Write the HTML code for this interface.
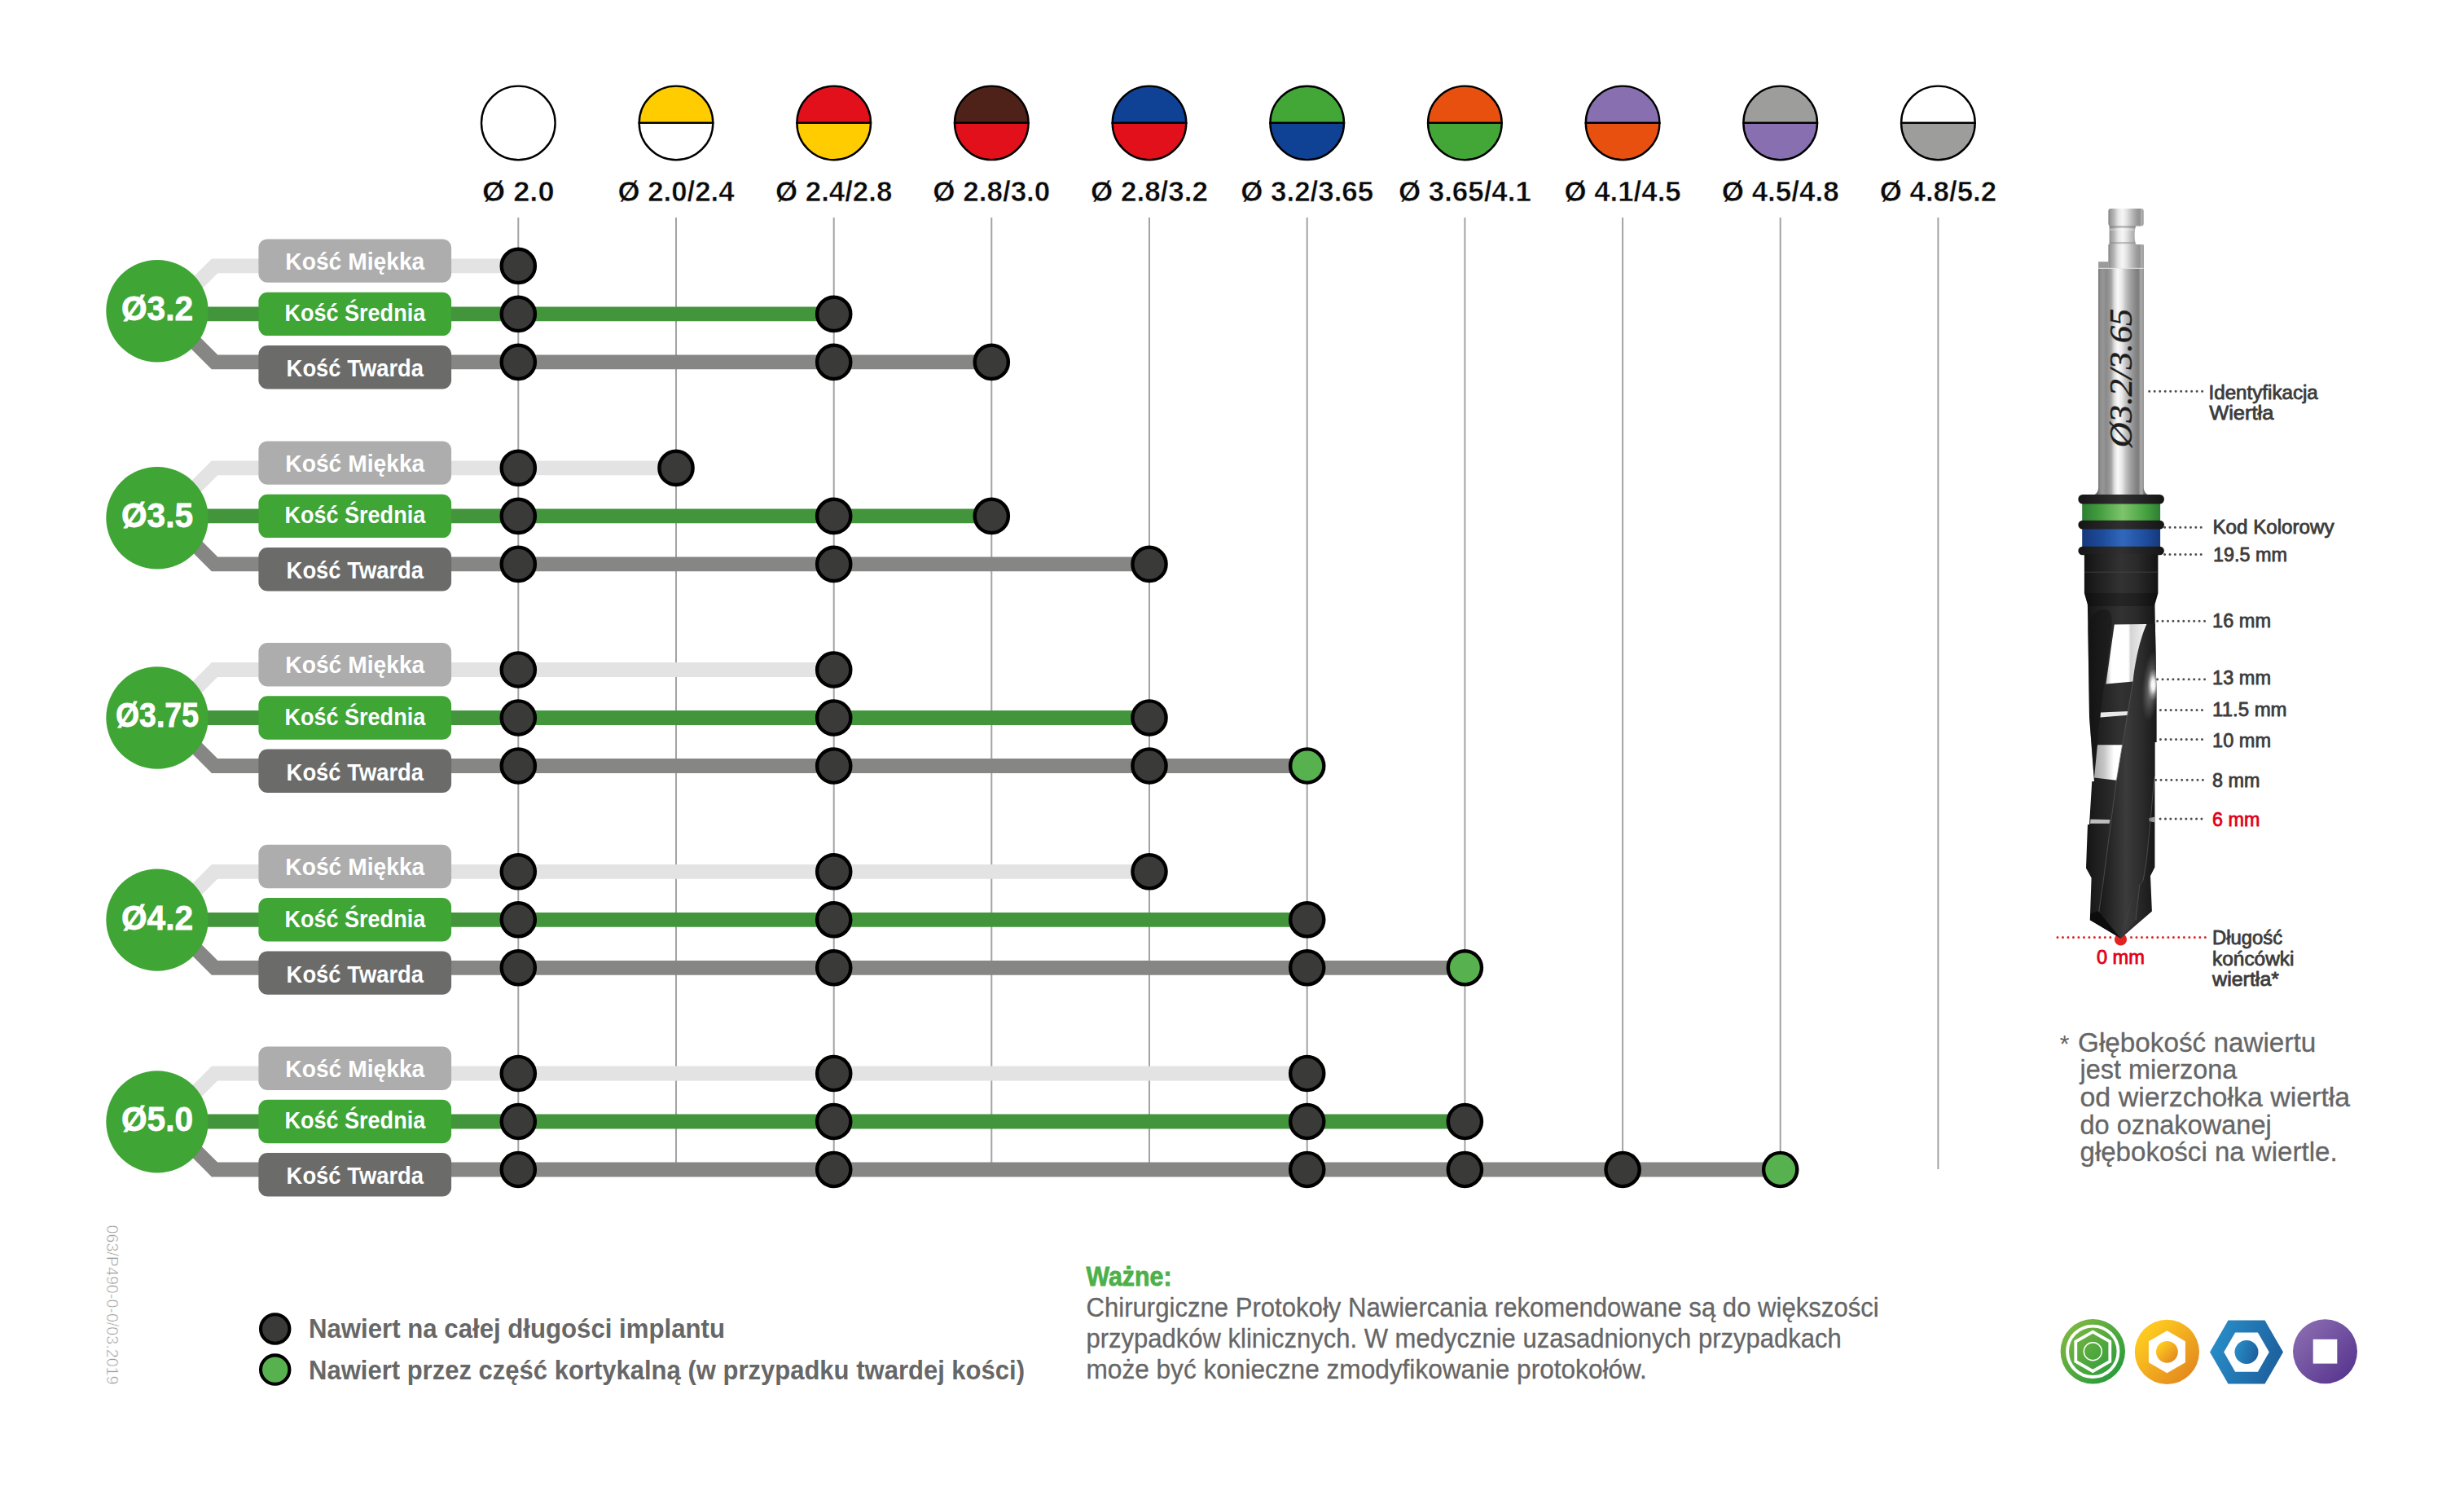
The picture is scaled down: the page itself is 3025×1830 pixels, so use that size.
<!DOCTYPE html>
<html lang="pl"><head><meta charset="utf-8"><title>Protokoły nawiercania</title>
<style>html,body{margin:0;padding:0;background:#fff}svg{display:block}text{white-space:pre}</style></head>
<body>
<svg width="3025" height="1830" viewBox="0 0 3025 1830">
<rect width="3025" height="1830" fill="#fff"/>
<g stroke="#a3a3a3" stroke-width="2">
<line x1="636.3" y1="267" x2="636.3" y2="1435"/>
<line x1="830.0" y1="267" x2="830.0" y2="1435"/>
<line x1="1023.7" y1="267" x2="1023.7" y2="1435"/>
<line x1="1217.3" y1="267" x2="1217.3" y2="1435"/>
<line x1="1411.0" y1="267" x2="1411.0" y2="1435"/>
<line x1="1604.7" y1="267" x2="1604.7" y2="1435"/>
<line x1="1798.4" y1="267" x2="1798.4" y2="1435"/>
<line x1="1992.1" y1="267" x2="1992.1" y2="1435"/>
<line x1="2185.7" y1="267" x2="2185.7" y2="1435"/>
<line x1="2379.4" y1="267" x2="2379.4" y2="1435"/>
</g>
<g stroke="#000" stroke-width="2.4">
<circle cx="636.3" cy="150.9" r="45.3" fill="#fff"/>
<path d="M784.7 150.9A45.3 45.3 0 0 1 875.3 150.9Z" fill="#ffcc00"/>
<path d="M784.7 150.9A45.3 45.3 0 0 0 875.3 150.9Z" fill="#ffffff"/>
<path d="M978.4 150.9A45.3 45.3 0 0 1 1069.0 150.9Z" fill="#e2101b"/>
<path d="M978.4 150.9A45.3 45.3 0 0 0 1069.0 150.9Z" fill="#ffcc00"/>
<path d="M1172.0 150.9A45.3 45.3 0 0 1 1262.6 150.9Z" fill="#4f2219"/>
<path d="M1172.0 150.9A45.3 45.3 0 0 0 1262.6 150.9Z" fill="#e2101b"/>
<path d="M1365.7 150.9A45.3 45.3 0 0 1 1456.3 150.9Z" fill="#0f4194"/>
<path d="M1365.7 150.9A45.3 45.3 0 0 0 1456.3 150.9Z" fill="#e2101b"/>
<path d="M1559.4 150.9A45.3 45.3 0 0 1 1650.0 150.9Z" fill="#43a738"/>
<path d="M1559.4 150.9A45.3 45.3 0 0 0 1650.0 150.9Z" fill="#0f4194"/>
<path d="M1753.1 150.9A45.3 45.3 0 0 1 1843.7 150.9Z" fill="#e8500f"/>
<path d="M1753.1 150.9A45.3 45.3 0 0 0 1843.7 150.9Z" fill="#43a738"/>
<path d="M1946.8 150.9A45.3 45.3 0 0 1 2037.4 150.9Z" fill="#8870b0"/>
<path d="M1946.8 150.9A45.3 45.3 0 0 0 2037.4 150.9Z" fill="#e8500f"/>
<path d="M2140.4 150.9A45.3 45.3 0 0 1 2231.0 150.9Z" fill="#9d9d9c"/>
<path d="M2140.4 150.9A45.3 45.3 0 0 0 2231.0 150.9Z" fill="#8870b0"/>
<path d="M2334.1 150.9A45.3 45.3 0 0 1 2424.7 150.9Z" fill="#ffffff"/>
<path d="M2334.1 150.9A45.3 45.3 0 0 0 2424.7 150.9Z" fill="#9d9d9c"/>
</g>
<g font-family="Liberation Sans, sans-serif">
<text x="592.0" y="246.7" font-size="35.2" font-weight="bold" fill="#0a0a0a" text-anchor="start" textLength="88.5" lengthAdjust="spacingAndGlyphs" stroke="#fff" stroke-width="0.5">Ø 2.0</text>
<text x="758.5" y="246.7" font-size="35.2" font-weight="bold" fill="#0a0a0a" text-anchor="start" textLength="143" lengthAdjust="spacingAndGlyphs" stroke="#fff" stroke-width="0.5">Ø 2.0/2.4</text>
<text x="952.0" y="246.7" font-size="35.2" font-weight="bold" fill="#0a0a0a" text-anchor="start" textLength="143.3" lengthAdjust="spacingAndGlyphs" stroke="#fff" stroke-width="0.5">Ø 2.4/2.8</text>
<text x="1145.3" y="246.7" font-size="35.2" font-weight="bold" fill="#0a0a0a" text-anchor="start" textLength="144" lengthAdjust="spacingAndGlyphs" stroke="#fff" stroke-width="0.5">Ø 2.8/3.0</text>
<text x="1339.0" y="246.7" font-size="35.2" font-weight="bold" fill="#0a0a0a" text-anchor="start" textLength="144" lengthAdjust="spacingAndGlyphs" stroke="#fff" stroke-width="0.5">Ø 2.8/3.2</text>
<text x="1523.2" y="246.7" font-size="35.2" font-weight="bold" fill="#0a0a0a" text-anchor="start" textLength="163" lengthAdjust="spacingAndGlyphs" stroke="#fff" stroke-width="0.5">Ø 3.2/3.65</text>
<text x="1716.9" y="246.7" font-size="35.2" font-weight="bold" fill="#0a0a0a" text-anchor="start" textLength="163" lengthAdjust="spacingAndGlyphs" stroke="#fff" stroke-width="0.5">Ø 3.65/4.1</text>
<text x="1920.4" y="246.7" font-size="35.2" font-weight="bold" fill="#0a0a0a" text-anchor="start" textLength="143.3" lengthAdjust="spacingAndGlyphs" stroke="#fff" stroke-width="0.5">Ø 4.1/4.5</text>
<text x="2113.7" y="246.7" font-size="35.2" font-weight="bold" fill="#0a0a0a" text-anchor="start" textLength="144" lengthAdjust="spacingAndGlyphs" stroke="#fff" stroke-width="0.5">Ø 4.5/4.8</text>
<text x="2307.8" y="246.7" font-size="35.2" font-weight="bold" fill="#0a0a0a" text-anchor="start" textLength="143.3" lengthAdjust="spacingAndGlyphs" stroke="#fff" stroke-width="0.5">Ø 4.8/5.2</text>
</g>
<g fill="none" stroke-width="17.8" stroke-linejoin="miter">
<path d="M193.5 396.4L263.5 326.4H636.3" stroke="#e3e3e3"/>
<path d="M193 385.4H1023.7" stroke="#43953c"/>
<path d="M193.5 374.4L263.5 444.4H1217.3" stroke="#868685"/>
</g>
<rect x="317.4" y="293.4" width="236.7" height="53.4" rx="11" fill="#adadad"/>
<g font-family="Liberation Sans, sans-serif"><text x="350.3" y="330.7" font-size="30" font-weight="bold" fill="#fff" text-anchor="start" textLength="171" lengthAdjust="spacingAndGlyphs" >Kość Miękka</text></g>
<rect x="317.4" y="358.7" width="236.7" height="53.4" rx="11" fill="#3fa535"/>
<g font-family="Liberation Sans, sans-serif"><text x="349.4" y="394.1" font-size="30" font-weight="bold" fill="#fff" text-anchor="start" textLength="172.8" lengthAdjust="spacingAndGlyphs" >Kość Średnia</text></g>
<rect x="317.4" y="424.0" width="236.7" height="53.4" rx="11" fill="#6b6b6a"/>
<g font-family="Liberation Sans, sans-serif"><text x="351.6" y="462.1" font-size="30" font-weight="bold" fill="#fff" text-anchor="start" textLength="168.5" lengthAdjust="spacingAndGlyphs" >Kość Twarda</text></g>
<circle cx="193" cy="381.7" r="62.7" fill="#3fa535"/>
<g font-family="Liberation Sans, sans-serif"><text x="149.0" y="393.1" font-size="43" font-weight="bold" fill="#fff" text-anchor="start" textLength="88" lengthAdjust="spacingAndGlyphs" stroke="#fff" stroke-width="0.8">Ø3.2</text></g>
<g stroke="#000" stroke-width="4.4">
<circle cx="636.3" cy="326.4" r="20.6" fill="#3a3a39"/>
<circle cx="636.3" cy="385.4" r="20.6" fill="#3a3a39"/>
<circle cx="1023.7" cy="385.4" r="20.6" fill="#3a3a39"/>
<circle cx="636.3" cy="444.4" r="20.6" fill="#3a3a39"/>
<circle cx="1023.7" cy="444.4" r="20.6" fill="#3a3a39"/>
<circle cx="1217.3" cy="444.4" r="20.6" fill="#3a3a39"/>
</g>
<g fill="none" stroke-width="17.8" stroke-linejoin="miter">
<path d="M193.5 644.4L263.5 574.4H830.0" stroke="#e3e3e3"/>
<path d="M193 633.4H1217.3" stroke="#43953c"/>
<path d="M193.5 622.4L263.5 692.4H1411.0" stroke="#868685"/>
</g>
<rect x="317.4" y="541.4" width="236.7" height="53.4" rx="11" fill="#adadad"/>
<g font-family="Liberation Sans, sans-serif"><text x="350.3" y="578.7" font-size="30" font-weight="bold" fill="#fff" text-anchor="start" textLength="171" lengthAdjust="spacingAndGlyphs" >Kość Miękka</text></g>
<rect x="317.4" y="606.7" width="236.7" height="53.4" rx="11" fill="#3fa535"/>
<g font-family="Liberation Sans, sans-serif"><text x="349.4" y="642.1" font-size="30" font-weight="bold" fill="#fff" text-anchor="start" textLength="172.8" lengthAdjust="spacingAndGlyphs" >Kość Średnia</text></g>
<rect x="317.4" y="672.0" width="236.7" height="53.4" rx="11" fill="#6b6b6a"/>
<g font-family="Liberation Sans, sans-serif"><text x="351.6" y="710.1" font-size="30" font-weight="bold" fill="#fff" text-anchor="start" textLength="168.5" lengthAdjust="spacingAndGlyphs" >Kość Twarda</text></g>
<circle cx="193" cy="635.8" r="62.7" fill="#3fa535"/>
<g font-family="Liberation Sans, sans-serif"><text x="149.0" y="647.2" font-size="43" font-weight="bold" fill="#fff" text-anchor="start" textLength="88" lengthAdjust="spacingAndGlyphs" stroke="#fff" stroke-width="0.8">Ø3.5</text></g>
<g stroke="#000" stroke-width="4.4">
<circle cx="636.3" cy="574.4" r="20.6" fill="#3a3a39"/>
<circle cx="830.0" cy="574.4" r="20.6" fill="#3a3a39"/>
<circle cx="636.3" cy="633.4" r="20.6" fill="#3a3a39"/>
<circle cx="1023.7" cy="633.4" r="20.6" fill="#3a3a39"/>
<circle cx="1217.3" cy="633.4" r="20.6" fill="#3a3a39"/>
<circle cx="636.3" cy="692.4" r="20.6" fill="#3a3a39"/>
<circle cx="1023.7" cy="692.4" r="20.6" fill="#3a3a39"/>
<circle cx="1411.0" cy="692.4" r="20.6" fill="#3a3a39"/>
</g>
<g fill="none" stroke-width="17.8" stroke-linejoin="miter">
<path d="M193.5 892.0L263.5 822.0H1023.7" stroke="#e3e3e3"/>
<path d="M193 881.0H1411.0" stroke="#43953c"/>
<path d="M193.5 870.0L263.5 940.0H1604.7" stroke="#868685"/>
</g>
<rect x="317.4" y="789.0" width="236.7" height="53.4" rx="11" fill="#adadad"/>
<g font-family="Liberation Sans, sans-serif"><text x="350.3" y="826.3" font-size="30" font-weight="bold" fill="#fff" text-anchor="start" textLength="171" lengthAdjust="spacingAndGlyphs" >Kość Miękka</text></g>
<rect x="317.4" y="854.3" width="236.7" height="53.4" rx="11" fill="#3fa535"/>
<g font-family="Liberation Sans, sans-serif"><text x="349.4" y="889.7" font-size="30" font-weight="bold" fill="#fff" text-anchor="start" textLength="172.8" lengthAdjust="spacingAndGlyphs" >Kość Średnia</text></g>
<rect x="317.4" y="919.6" width="236.7" height="53.4" rx="11" fill="#6b6b6a"/>
<g font-family="Liberation Sans, sans-serif"><text x="351.6" y="957.7" font-size="30" font-weight="bold" fill="#fff" text-anchor="start" textLength="168.5" lengthAdjust="spacingAndGlyphs" >Kość Twarda</text></g>
<circle cx="193" cy="881.0" r="62.7" fill="#3fa535"/>
<g font-family="Liberation Sans, sans-serif"><text x="142.0" y="892.4" font-size="43" font-weight="bold" fill="#fff" text-anchor="start" textLength="102" lengthAdjust="spacingAndGlyphs" stroke="#fff" stroke-width="0.8">Ø3.75</text></g>
<g stroke="#000" stroke-width="4.4">
<circle cx="636.3" cy="822.0" r="20.6" fill="#3a3a39"/>
<circle cx="1023.7" cy="822.0" r="20.6" fill="#3a3a39"/>
<circle cx="636.3" cy="881.0" r="20.6" fill="#3a3a39"/>
<circle cx="1023.7" cy="881.0" r="20.6" fill="#3a3a39"/>
<circle cx="1411.0" cy="881.0" r="20.6" fill="#3a3a39"/>
<circle cx="636.3" cy="940.0" r="20.6" fill="#3a3a39"/>
<circle cx="1023.7" cy="940.0" r="20.6" fill="#3a3a39"/>
<circle cx="1411.0" cy="940.0" r="20.6" fill="#3a3a39"/>
<circle cx="1604.7" cy="940.0" r="20.6" fill="#57b14e"/>
</g>
<g fill="none" stroke-width="17.8" stroke-linejoin="miter">
<path d="M193.5 1139.8L263.5 1069.8H1411.0" stroke="#e3e3e3"/>
<path d="M193 1128.8H1604.7" stroke="#43953c"/>
<path d="M193.5 1117.8L263.5 1187.8H1798.4" stroke="#868685"/>
</g>
<rect x="317.4" y="1036.8" width="236.7" height="53.4" rx="11" fill="#adadad"/>
<g font-family="Liberation Sans, sans-serif"><text x="350.3" y="1074.1" font-size="30" font-weight="bold" fill="#fff" text-anchor="start" textLength="171" lengthAdjust="spacingAndGlyphs" >Kość Miękka</text></g>
<rect x="317.4" y="1102.1" width="236.7" height="53.4" rx="11" fill="#3fa535"/>
<g font-family="Liberation Sans, sans-serif"><text x="349.4" y="1137.5" font-size="30" font-weight="bold" fill="#fff" text-anchor="start" textLength="172.8" lengthAdjust="spacingAndGlyphs" >Kość Średnia</text></g>
<rect x="317.4" y="1167.4" width="236.7" height="53.4" rx="11" fill="#6b6b6a"/>
<g font-family="Liberation Sans, sans-serif"><text x="351.6" y="1205.5" font-size="30" font-weight="bold" fill="#fff" text-anchor="start" textLength="168.5" lengthAdjust="spacingAndGlyphs" >Kość Twarda</text></g>
<circle cx="193" cy="1129.1" r="62.7" fill="#3fa535"/>
<g font-family="Liberation Sans, sans-serif"><text x="149.0" y="1140.5" font-size="43" font-weight="bold" fill="#fff" text-anchor="start" textLength="88" lengthAdjust="spacingAndGlyphs" stroke="#fff" stroke-width="0.8">Ø4.2</text></g>
<g stroke="#000" stroke-width="4.4">
<circle cx="636.3" cy="1069.8" r="20.6" fill="#3a3a39"/>
<circle cx="1023.7" cy="1069.8" r="20.6" fill="#3a3a39"/>
<circle cx="1411.0" cy="1069.8" r="20.6" fill="#3a3a39"/>
<circle cx="636.3" cy="1128.8" r="20.6" fill="#3a3a39"/>
<circle cx="1023.7" cy="1128.8" r="20.6" fill="#3a3a39"/>
<circle cx="1604.7" cy="1128.8" r="20.6" fill="#3a3a39"/>
<circle cx="636.3" cy="1187.8" r="20.6" fill="#3a3a39"/>
<circle cx="1023.7" cy="1187.8" r="20.6" fill="#3a3a39"/>
<circle cx="1604.7" cy="1187.8" r="20.6" fill="#3a3a39"/>
<circle cx="1798.4" cy="1187.8" r="20.6" fill="#57b14e"/>
</g>
<g fill="none" stroke-width="17.8" stroke-linejoin="miter">
<path d="M193.5 1387.5L263.5 1317.5H1604.7" stroke="#e3e3e3"/>
<path d="M193 1376.5H1798.4" stroke="#43953c"/>
<path d="M193.5 1365.5L263.5 1435.5H2185.7" stroke="#868685"/>
</g>
<rect x="317.4" y="1284.5" width="236.7" height="53.4" rx="11" fill="#adadad"/>
<g font-family="Liberation Sans, sans-serif"><text x="350.3" y="1321.8" font-size="30" font-weight="bold" fill="#fff" text-anchor="start" textLength="171" lengthAdjust="spacingAndGlyphs" >Kość Miękka</text></g>
<rect x="317.4" y="1349.8" width="236.7" height="53.4" rx="11" fill="#3fa535"/>
<g font-family="Liberation Sans, sans-serif"><text x="349.4" y="1385.2" font-size="30" font-weight="bold" fill="#fff" text-anchor="start" textLength="172.8" lengthAdjust="spacingAndGlyphs" >Kość Średnia</text></g>
<rect x="317.4" y="1415.1" width="236.7" height="53.4" rx="11" fill="#6b6b6a"/>
<g font-family="Liberation Sans, sans-serif"><text x="351.6" y="1453.2" font-size="30" font-weight="bold" fill="#fff" text-anchor="start" textLength="168.5" lengthAdjust="spacingAndGlyphs" >Kość Twarda</text></g>
<circle cx="193" cy="1376.9" r="62.7" fill="#3fa535"/>
<g font-family="Liberation Sans, sans-serif"><text x="149.0" y="1388.3" font-size="43" font-weight="bold" fill="#fff" text-anchor="start" textLength="88" lengthAdjust="spacingAndGlyphs" stroke="#fff" stroke-width="0.8">Ø5.0</text></g>
<g stroke="#000" stroke-width="4.4">
<circle cx="636.3" cy="1317.5" r="20.6" fill="#3a3a39"/>
<circle cx="1023.7" cy="1317.5" r="20.6" fill="#3a3a39"/>
<circle cx="1604.7" cy="1317.5" r="20.6" fill="#3a3a39"/>
<circle cx="636.3" cy="1376.5" r="20.6" fill="#3a3a39"/>
<circle cx="1023.7" cy="1376.5" r="20.6" fill="#3a3a39"/>
<circle cx="1604.7" cy="1376.5" r="20.6" fill="#3a3a39"/>
<circle cx="1798.4" cy="1376.5" r="20.6" fill="#3a3a39"/>
<circle cx="636.3" cy="1435.5" r="20.6" fill="#3a3a39"/>
<circle cx="1023.7" cy="1435.5" r="20.6" fill="#3a3a39"/>
<circle cx="1604.7" cy="1435.5" r="20.6" fill="#3a3a39"/>
<circle cx="1798.4" cy="1435.5" r="20.6" fill="#3a3a39"/>
<circle cx="1992.1" cy="1435.5" r="20.6" fill="#3a3a39"/>
<circle cx="2185.7" cy="1435.5" r="20.6" fill="#57b14e"/>
</g>
<defs>
<linearGradient id="mt" x1="2576" x2="2632" y1="0" y2="0" gradientUnits="userSpaceOnUse">
<stop offset="0" stop-color="#6e6e6e"/><stop offset="0.04" stop-color="#8c8c8c"/><stop offset="0.1" stop-color="#969696"/><stop offset="0.18" stop-color="#8a8a8a"/>
<stop offset="0.28" stop-color="#a2a2a2"/><stop offset="0.36" stop-color="#e0e0e0"/><stop offset="0.43" stop-color="#fafafa"/><stop offset="0.52" stop-color="#e8e8e8"/>
<stop offset="0.6" stop-color="#c4c4c4"/><stop offset="0.7" stop-color="#a2a2a2"/><stop offset="0.82" stop-color="#868686"/><stop offset="0.88" stop-color="#7c7c7c"/>
<stop offset="0.93" stop-color="#a8a8a8"/><stop offset="0.97" stop-color="#a0a0a0"/><stop offset="1" stop-color="#707070"/></linearGradient>
<linearGradient id="mh" x1="2588" x2="2632" y1="0" y2="0" gradientUnits="userSpaceOnUse">
<stop offset="0" stop-color="#7c7c7c"/><stop offset="0.06" stop-color="#9a9a9a"/><stop offset="0.16" stop-color="#b4b4b4"/><stop offset="0.28" stop-color="#e4e4e4"/>
<stop offset="0.4" stop-color="#f6f6f6"/><stop offset="0.52" stop-color="#e2e2e2"/><stop offset="0.66" stop-color="#bcbcbc"/><stop offset="0.8" stop-color="#9c9c9c"/>
<stop offset="0.88" stop-color="#929292"/><stop offset="0.95" stop-color="#b4b4b4"/><stop offset="1" stop-color="#7e7e7e"/></linearGradient>
<linearGradient id="gb" x1="2556" x2="2652" y1="0" y2="0" gradientUnits="userSpaceOnUse">
<stop offset="0" stop-color="#2f7e33"/><stop offset="0.2" stop-color="#3f9a3c"/><stop offset="0.52" stop-color="#7ec46b"/><stop offset="0.8" stop-color="#48a442"/><stop offset="1" stop-color="#2f7e33"/></linearGradient>
<linearGradient id="bb" x1="2556" x2="2652" y1="0" y2="0" gradientUnits="userSpaceOnUse">
<stop offset="0" stop-color="#17387c"/><stop offset="0.25" stop-color="#1d4a9a"/><stop offset="0.52" stop-color="#3168bb"/><stop offset="0.8" stop-color="#1f4e9f"/><stop offset="1" stop-color="#17387c"/></linearGradient>
<linearGradient id="kr" x1="2551" x2="2657" y1="0" y2="0" gradientUnits="userSpaceOnUse">
<stop offset="0" stop-color="#151515"/><stop offset="0.5" stop-color="#303030"/><stop offset="1" stop-color="#151515"/></linearGradient>
<linearGradient id="kb" x1="2559" x2="2649" y1="0" y2="0" gradientUnits="userSpaceOnUse">
<stop offset="0" stop-color="#121212"/><stop offset="0.15" stop-color="#1d1d1d"/><stop offset="0.5" stop-color="#323232"/><stop offset="0.7" stop-color="#2b2b2b"/><stop offset="1" stop-color="#141414"/></linearGradient>
<linearGradient id="ld" x1="2580" x2="2646" y1="0" y2="0" gradientUnits="userSpaceOnUse">
<stop offset="0" stop-color="#1b1b1b"/><stop offset="0.45" stop-color="#3b3b3b"/><stop offset="0.75" stop-color="#2c2c2c"/><stop offset="1" stop-color="#1a1a1a"/></linearGradient>
<linearGradient id="w1" x1="2585" x2="2636" y1="0" y2="0" gradientUnits="userSpaceOnUse">
<stop offset="0" stop-color="#bdbdbd"/><stop offset="0.14" stop-color="#ffffff"/><stop offset="0.55" stop-color="#ffffff"/><stop offset="0.6" stop-color="#d4d4d4"/><stop offset="1" stop-color="#f4f4f4"/></linearGradient>
<linearGradient id="w2" x1="2571" x2="2606" y1="0" y2="0" gradientUnits="userSpaceOnUse">
<stop offset="0" stop-color="#a8a8a8"/><stop offset="0.35" stop-color="#c6c6c6"/><stop offset="0.7" stop-color="#ffffff"/><stop offset="1" stop-color="#ffffff"/></linearGradient>
<radialGradient id="hl" cx="0.5" cy="0.5" r="0.5">
<stop offset="0" stop-color="#fff" stop-opacity="1"/><stop offset="0.3" stop-color="#fff" stop-opacity="0.9"/><stop offset="0.65" stop-color="#fff" stop-opacity="0.3"/><stop offset="1" stop-color="#fff" stop-opacity="0"/></radialGradient>
<radialGradient id="hl2" cx="0.5" cy="0.5" r="0.5">
<stop offset="0" stop-color="#ddd" stop-opacity="0.6"/><stop offset="0.5" stop-color="#bbb" stop-opacity="0.3"/><stop offset="1" stop-color="#999" stop-opacity="0"/></radialGradient>
<clipPath id="bodyclip"><path d="M2558.9 680H2649.4V728L2645.4 742L2647.4 850V911H2645.4V1064.5L2640 1075L2641.9 1118.5L2603.5 1151.7L2565.8 1129.3L2567.6 1077.4L2561 1065.4L2563 1012H2565L2568.3 959H2571L2565 880L2562.9 742L2558.9 728Z"/></clipPath>
</defs>
<circle cx="2603.5" cy="1153" r="7.6" fill="#e3231f"/>
<g>
<rect x="2588.4" y="256" width="43.2" height="21.5" rx="3" fill="url(#mh)"/>
<path d="M2589.6 277H2622.5C2620 281 2620 296 2622.5 300H2589.6Z" fill="url(#mh)"/>
<rect x="2589.6" y="277.3" width="32" height="2.2" fill="#777" opacity="0.55"/>
<rect x="2589.6" y="281.3" width="31" height="1.4" fill="#fff" opacity="0.35"/>
<rect x="2589.6" y="297" width="31.5" height="2.2" fill="#888" opacity="0.5"/>
<path d="M2588.4 300H2630.8Q2631.8 300 2631.8 301.5V330H2588.4Z" fill="url(#mh)"/>
<rect x="2576.1" y="321.2" width="12.6" height="9" fill="#9a9a9a"/>
<path d="M2576.1 329.3H2631.8V599C2632 603 2634 606 2638 608H2570C2574 606 2576 603 2576.1 599Z" fill="url(#mt)"/>
<rect x="2576.1" y="328.8" width="55.7" height="1.2" fill="#e9e9e9" opacity="0.8"/>
</g>
<text transform="translate(2617.3 549.2) rotate(-90)" font-family="Liberation Serif, serif" font-style="italic" font-size="40.5" fill="#1d1d1d" stroke="#1d1d1d" stroke-width="0.45" textLength="170.5" lengthAdjust="spacingAndGlyphs">Ø3.2/3.65</text>
<rect x="2556.2" y="616" width="95.9" height="26" fill="url(#gb)"/>
<rect x="2556.2" y="647" width="95.9" height="27" fill="url(#bb)"/>
<rect x="2551.4" y="607" width="105.5" height="11.6" rx="5.5" fill="url(#kr)"/>
<rect x="2551.4" y="638.8" width="105.5" height="10.6" rx="5.2" fill="url(#kr)"/>
<rect x="2551.4" y="670.8" width="105.5" height="10.4" rx="5.2" fill="url(#kr)"/>
<path d="M2558.9 680H2649.4V728L2645.4 742L2647.4 850V911H2645.4V1064.5L2640 1075L2641.9 1118.5L2603.5 1151.7L2565.8 1129.3L2567.6 1077.4L2561 1065.4L2563 1012H2565L2568.3 959H2571L2565 880L2562.9 742L2558.9 728Z" fill="url(#kb)"/>
<g clip-path="url(#bodyclip)">
<rect x="2556" y="701.6" width="96" height="1.2" fill="#4a4a4a" opacity="0.6"/>
<rect x="2556" y="728" width="96" height="16" fill="#000" opacity="0.25"/>
<path d="M2635.4 766C2629 780 2622 805 2618.6 836.5L2611.2 880L2598 960L2582.4 1080L2576 1124.5L2603.5 1151.7L2622 1129L2626.8 1082L2631.3 1080L2635.4 1054.4L2640.7 1000.7L2644.7 955L2650 940V766Z" fill="url(#ld)"/>
<path d="M2563 770C2566 752 2580 744 2589 750C2594 756 2593 768 2590 790L2578 880L2570 960L2563 880Z" fill="#0f0f0f" opacity="0.4"/>
<path d="M2595.8 766.4L2635.4 766C2629 780 2622 805 2618.6 836.5L2585.4 839.5Z" fill="url(#w1)"/>
<path d="M2579 874.4L2612.5 873L2612 877.7L2578.5 880.4Z" fill="#e9e9e9"/>
<path d="M2575 914.2H2605.8L2598.5 957.8L2571 954.4Z" fill="url(#w2)"/>
<path d="M2566.5 1005.4L2590.5 1006L2589.6 1010.8H2566Z" fill="#bdbdbd"/>
<path d="M2638.5 1004L2646 1002.5V1009.5L2638.5 1008Z" fill="#9a9a9a"/>
<path d="M2618.6 836.5L2611.2 880L2598 960L2582.4 1080L2576 1124.5" fill="none" stroke="#5a5a5a" stroke-width="0.9" opacity="0.8"/>
<path d="M2644.7 955L2640.7 1000.7L2635.4 1054.4L2631.3 1080L2626.8 1086L2622 1129" fill="none" stroke="#5a5a5a" stroke-width="0.9" opacity="0.8"/>
<path d="M2565.8 1122L2575.5 1118L2603.5 1151.7L2565.8 1129.3Z" fill="#0c0c0c"/>
<path d="M2620 1090L2603.5 1151.7L2612 1125Z" fill="#444" opacity="0.7"/>
<ellipse cx="2641" cy="842" rx="11" ry="44" fill="url(#hl2)" transform="rotate(5 2641 842)"/>
<ellipse cx="2643.5" cy="840.5" rx="7" ry="20" fill="url(#hl)"/>
</g>
<line x1="2638.7" y1="480.3" x2="2703.65" y2="480.3" stroke="#4d4d4d" stroke-width="3" stroke-linecap="round" stroke-dasharray="0 6.49"/>
<line x1="2657.6" y1="647.3" x2="2702.24" y2="647.3" stroke="#4d4d4d" stroke-width="3" stroke-linecap="round" stroke-dasharray="0 6.37"/>
<line x1="2657.6" y1="680.6" x2="2702.24" y2="680.6" stroke="#4d4d4d" stroke-width="3" stroke-linecap="round" stroke-dasharray="0 6.37"/>
<line x1="2648.6" y1="762.3" x2="2706.61" y2="762.3" stroke="#4d4d4d" stroke-width="3" stroke-linecap="round" stroke-dasharray="0 6.44"/>
<line x1="2648.6" y1="833.7" x2="2706.61" y2="833.7" stroke="#4d4d4d" stroke-width="3" stroke-linecap="round" stroke-dasharray="0 6.44"/>
<line x1="2652.4" y1="871.5" x2="2703.49" y2="871.5" stroke="#4d4d4d" stroke-width="3" stroke-linecap="round" stroke-dasharray="0 6.38"/>
<line x1="2652.4" y1="907.6" x2="2703.49" y2="907.6" stroke="#4d4d4d" stroke-width="3" stroke-linecap="round" stroke-dasharray="0 6.38"/>
<line x1="2646.6" y1="957.2" x2="2704.43" y2="957.2" stroke="#4d4d4d" stroke-width="3" stroke-linecap="round" stroke-dasharray="0 6.42"/>
<line x1="2652.1" y1="1005.1" x2="2702.95" y2="1005.1" stroke="#4d4d4d" stroke-width="3" stroke-linecap="round" stroke-dasharray="0 6.35"/>
<line x1="2526" y1="1150.5" x2="2590.85" y2="1150.5" stroke="#e3231f" stroke-width="3" stroke-linecap="round" stroke-dasharray="0 6.48"/>
<line x1="2616.5" y1="1150.5" x2="2707.34" y2="1150.5" stroke="#e3231f" stroke-width="3" stroke-linecap="round" stroke-dasharray="0 6.485"/>
<g font-family="Liberation Sans, sans-serif" stroke-width="0.85" stroke-linejoin="round">
<text x="2711.5" y="489.7" font-size="24.8" font-weight="normal" fill="#3c3c3b" text-anchor="start" textLength="134.3" lengthAdjust="spacingAndGlyphs" stroke="#3c3c3b">Identyfikacja</text>
<text x="2712.2" y="514.6" font-size="24.8" font-weight="normal" fill="#3c3c3b" text-anchor="start" textLength="79.2" lengthAdjust="spacingAndGlyphs" stroke="#3c3c3b">Wiertła</text>
<text x="2716.4" y="655.2" font-size="24.8" font-weight="normal" fill="#3c3c3b" text-anchor="start" textLength="149.2" lengthAdjust="spacingAndGlyphs" stroke="#3c3c3b">Kod Kolorowy</text>
<text x="2717.1" y="689.4" font-size="24.8" font-weight="normal" fill="#3c3c3b" text-anchor="start" textLength="90.9" lengthAdjust="spacingAndGlyphs" stroke="#3c3c3b">19.5 mm</text>
<text x="2716.1" y="770" font-size="24.8" font-weight="normal" fill="#3c3c3b" text-anchor="start" textLength="71.9" lengthAdjust="spacingAndGlyphs" stroke="#3c3c3b">16 mm</text>
<text x="2716.1" y="840.2" font-size="24.8" font-weight="normal" fill="#3c3c3b" text-anchor="start" textLength="71.9" lengthAdjust="spacingAndGlyphs" stroke="#3c3c3b">13 mm</text>
<text x="2716.1" y="878.9" font-size="24.8" font-weight="normal" fill="#3c3c3b" text-anchor="start" textLength="91.5" lengthAdjust="spacingAndGlyphs" stroke="#3c3c3b">11.5 mm</text>
<text x="2716.1" y="916.5" font-size="24.8" font-weight="normal" fill="#3c3c3b" text-anchor="start" textLength="71.9" lengthAdjust="spacingAndGlyphs" stroke="#3c3c3b">10 mm</text>
<text x="2716.1" y="965.6" font-size="24.8" font-weight="normal" fill="#3c3c3b" text-anchor="start" textLength="58.3" lengthAdjust="spacingAndGlyphs" stroke="#3c3c3b">8 mm</text>
<text x="2716.1" y="1013.5" font-size="24.8" font-weight="normal" fill="#e2001a" text-anchor="start" textLength="58.3" lengthAdjust="spacingAndGlyphs" stroke="#e2001a">6 mm</text>
<text x="2716.1" y="1159.2" font-size="24.8" font-weight="normal" fill="#3c3c3b" text-anchor="start" textLength="86" lengthAdjust="spacingAndGlyphs" stroke="#3c3c3b">Długość</text>
<text x="2716.1" y="1185" font-size="24.8" font-weight="normal" fill="#3c3c3b" text-anchor="start" textLength="100.3" lengthAdjust="spacingAndGlyphs" stroke="#3c3c3b">końcówki</text>
<text x="2716.1" y="1210" font-size="24.8" font-weight="normal" fill="#3c3c3b" text-anchor="start" textLength="81.9" lengthAdjust="spacingAndGlyphs" stroke="#3c3c3b">wiertła*</text>
<text x="2573.9" y="1182.7" font-size="24.8" font-weight="normal" fill="#e2001a" text-anchor="start" textLength="59" lengthAdjust="spacingAndGlyphs" stroke="#e2001a">0 mm</text>
</g>
<g font-family="Liberation Sans, sans-serif">
<text x="2528.7" y="1290.9" font-size="30" font-weight="normal" fill="#666666" text-anchor="start" >*</text>
<text x="2551" y="1290.9" font-size="32.7" font-weight="normal" fill="#666666" text-anchor="start" textLength="292.2" lengthAdjust="spacingAndGlyphs" stroke="#666" stroke-width="0.3">Głębokość nawiertu</text>
<text x="2553.5" y="1324.4" font-size="32.7" font-weight="normal" fill="#666666" text-anchor="start" textLength="192.7" lengthAdjust="spacingAndGlyphs" stroke="#666" stroke-width="0.3">jest mierzona</text>
<text x="2553.5" y="1358.4" font-size="32.7" font-weight="normal" fill="#666666" text-anchor="start" textLength="331.7" lengthAdjust="spacingAndGlyphs" stroke="#666" stroke-width="0.3">od wierzchołka wiertła</text>
<text x="2553.5" y="1391.9" font-size="32.7" font-weight="normal" fill="#666666" text-anchor="start" textLength="235.3" lengthAdjust="spacingAndGlyphs" stroke="#666" stroke-width="0.3">do oznakowanej</text>
<text x="2553.5" y="1424.8" font-size="32.7" font-weight="normal" fill="#666666" text-anchor="start" textLength="316.1" lengthAdjust="spacingAndGlyphs" stroke="#666" stroke-width="0.3">głębokości na wiertle.</text>
</g>
<g stroke="#000" stroke-width="4.1"><circle cx="337.7" cy="1631" r="17.7" fill="#3a3a39"/><circle cx="337.7" cy="1681.1" r="17.7" fill="#57b14e"/></g>
<g font-family="Liberation Sans, sans-serif">
<text x="379" y="1642.3" font-size="33" font-weight="bold" fill="#676767" text-anchor="start" textLength="511" lengthAdjust="spacingAndGlyphs" >Nawiert na całej długości implantu</text>
<text x="379" y="1692.8" font-size="33" font-weight="bold" fill="#676767" text-anchor="start" textLength="879" lengthAdjust="spacingAndGlyphs" >Nawiert przez część kortykalną (w przypadku twardej kości)</text>
<text x="1333.5" y="1578.2" font-size="33" font-weight="bold" fill="#4db04a" text-anchor="start" textLength="105" lengthAdjust="spacingAndGlyphs" stroke="#4db04a" stroke-width="0.8">Ważne:</text>
<text x="1333.5" y="1616.2" font-size="32.7" font-weight="normal" fill="#666666" text-anchor="start" textLength="973.2" lengthAdjust="spacingAndGlyphs" stroke="#666" stroke-width="0.3">Chirurgiczne Protokoły Nawiercania rekomendowane są do większości</text>
<text x="1333.5" y="1654.1" font-size="32.7" font-weight="normal" fill="#666666" text-anchor="start" textLength="927.2" lengthAdjust="spacingAndGlyphs" stroke="#666" stroke-width="0.3">przypadków klinicznych. W medycznie uzasadnionych przypadkach</text>
<text x="1333.5" y="1691.6" font-size="32.7" font-weight="normal" fill="#666666" text-anchor="start" textLength="688.4" lengthAdjust="spacingAndGlyphs" stroke="#666" stroke-width="0.3">może być konieczne zmodyfikowanie protokołów.</text>
<text transform="translate(131 1503.5) rotate(90)" font-size="21" fill="#9c9c9c" stroke="#fff" stroke-width="0.55" textLength="196" lengthAdjust="spacingAndGlyphs">063/P490-0-0/03.2019</text>
</g>
<defs>
<linearGradient id="lg1" x1="0" y1="0" x2="1" y2="1"><stop offset="0.1" stop-color="#80b841"/><stop offset="0.9" stop-color="#259a3b"/></linearGradient>
<linearGradient id="lg2" x1="0" y1="0" x2="1" y2="1"><stop offset="0.2" stop-color="#fdc81f"/><stop offset="0.9" stop-color="#e2871f"/></linearGradient>
<linearGradient id="lg3" x1="0" y1="0" x2="1" y2="0.3"><stop offset="0" stop-color="#2a92cc"/><stop offset="1" stop-color="#1d63a0"/></linearGradient>
<linearGradient id="lg4" x1="0" y1="0" x2="1" y2="1"><stop offset="0.1" stop-color="#8a6cb0"/><stop offset="0.9" stop-color="#57358f"/></linearGradient>
</defs>
<circle cx="2569.3" cy="1658.8" r="39.7" fill="url(#lg1)"/>
<circle cx="2569.3" cy="1658.8" r="31.2" fill="none" stroke="#fff" stroke-width="3.9"/>
<polygon points="2590.3,1670.9 2569.3,1683.0 2548.3,1670.9 2548.3,1646.7 2569.3,1634.6 2590.3,1646.7" fill="none" stroke="#fff" stroke-width="3.8"/>
<circle cx="2569.3" cy="1658.8" r="11" fill="none" stroke="#fff" stroke-width="1.5"/>
<circle cx="2660.4" cy="1659.3" r="39.6" fill="url(#lg2)"/>
<polygon points="2682.9,1672.3 2660.4,1685.3 2637.9,1672.3 2637.9,1646.3 2660.4,1633.3 2682.9,1646.3" fill="#fff"/>
<circle cx="2660.4" cy="1659.3" r="13.4" fill="url(#lg2)"/>
<polygon points="2803.0,1659.6 2780.5,1698.6 2735.5,1698.6 2713.0,1659.6 2735.5,1620.6 2780.5,1620.6" fill="url(#lg3)"/>
<polygon points="2785.8,1659.6 2771.9,1683.7 2744.1,1683.7 2730.2,1659.6 2744.1,1635.5 2771.9,1635.5" fill="#fff"/>
<circle cx="2758" cy="1659.6" r="14.5" fill="url(#lg3)"/>
<circle cx="2854.5" cy="1658.8" r="39.5" fill="url(#lg4)"/>
<rect x="2839.7" y="1643.8" width="29.6" height="29.8" fill="#fff"/>

</svg>
</body></html>
